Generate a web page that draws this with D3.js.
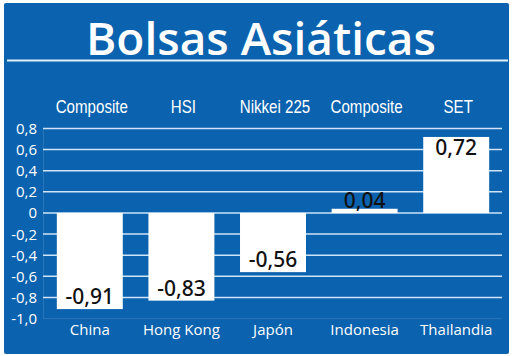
<!DOCTYPE html>
<html><head><meta charset="utf-8">
<script src="https://cdn.jsdelivr.net/npm/d3@7"></script>
<style>html,body{margin:0;padding:0;background:#fff;}</style>
</head><body>
<svg id="c" width="520" height="356"></svg>
<script>
const title = "Bolsas Asiáticas";
const countries = ["China", "Hong Kong", "Japón", "Indonesia", "Thailandia"];
const indices = ["Composite", "HSI", "Nikkei 225", "Composite", "SET"];
const values = [-0.91, -0.83, -0.56, 0.04, 0.72];
const yTicks = [0.8, 0.6, 0.4, 0.2, 0, -0.2, -0.4, -0.6, -0.8, -1.0];

const svg = d3.select("#c");
const blue = "#0b62ae";
svg.append("rect").attr("x", 4).attr("y", 3).attr("width", 505).attr("height", 351)
  .attr("rx", 2).attr("fill", blue);

svg.append("text").attr("x", 261).attr("y", 55).attr("text-anchor", "middle")
  .attr("font-family", "'Open Sans', Lato, sans-serif").attr("font-size", 46)
  .attr("font-weight", 600)
  .attr("fill", "#fff").text(title);
svg.append("line").attr("x1", 7).attr("x2", 508).attr("y1", 60.5).attr("y2", 60.5)
  .attr("stroke", "#e4f0fb").attr("stroke-width", 2);

const x = d3.scaleBand().domain(d3.range(countries.length)).range([44, 502])
  .paddingInner(0.28).paddingOuter(0.14);
const y = d3.scaleLinear().domain([-1, 0.8]).range([318.6, 128.5]);

const fmt2 = v => d3.format(".2f")(v).replace(".", ",").replace("−", "-");
const fmt1 = v => v === 0 ? "0" : d3.format(".1f")(v).replace(".", ",").replace("−", "-");

svg.append("line").attr("x1", 43).attr("x2", 502).attr("y1", y(-1)).attr("y2", y(-1))
  .attr("stroke", "#2a74b8").attr("stroke-width", 1);
svg.append("line").attr("x1", 43.5).attr("x2", 43.5).attr("y1", y(0.8)).attr("y2", y(-1))
  .attr("stroke", "#2a74b8").attr("stroke-width", 1);

svg.append("g").selectAll("line").data(yTicks.filter(t => t > -1)).join("line")
  .attr("x1", 43).attr("x2", 502).attr("y1", d => y(d)).attr("y2", d => y(d))
  .attr("stroke", "#cfe4f6").attr("stroke-width", 1.5);

svg.append("g").selectAll("text").data(yTicks).join("text")
  .attr("x", 37).attr("y", d => y(d) + 5.5).attr("text-anchor", "end")
  .attr("font-family", "'Open Sans', 'Noto Sans', sans-serif").attr("font-size", 15)
  .attr("fill", "#fff").text(fmt1);

svg.append("g").selectAll("rect").data(values).join("rect")
  .attr("x", (d, i) => x(i)).attr("width", x.bandwidth())
  .attr("y", d => y(Math.max(0, d))).attr("height", d => Math.abs(y(d) - y(0)))
  .attr("fill", "#fff");

svg.append("g").selectAll("text").data(values).join("text")
  .attr("x", (d, i) => x(i) + x.bandwidth() / 2)
  .attr("y", d => {
    const h = Math.abs(y(d) - y(0));
    if (d < 0) return y(d) - 5;
    return h > 25 ? y(d) + 18 : y(d) - 1;
  })
  .attr("text-anchor", "middle")
  .attr("font-family", "'Noto Sans', 'DejaVu Sans', sans-serif").attr("font-size", 21)
  .attr("font-weight", 500).attr("fill", "#111")
  .text(fmt2);

svg.append("g").selectAll("text").data(indices).join("text")
  .attr("transform", (d, i) => `translate(${x(i) + x.bandwidth() / 2 + 2},113) scale(0.84,1)`)
  .attr("text-anchor", "middle")
  .attr("font-family", "'Liberation Sans', Arial, sans-serif")
  .attr("font-size", 18).attr("fill", "#fff").text(d => d);

svg.append("g").selectAll("text").data(countries).join("text")
  .attr("x", (d, i) => x(i) + x.bandwidth() / 2).attr("y", 335)
  .attr("text-anchor", "middle")
  .attr("font-family", "'Open Sans', 'Noto Sans', sans-serif")
  .attr("font-size", 15).attr("fill", "#fff").text(d => d);
</script>
</body></html>
